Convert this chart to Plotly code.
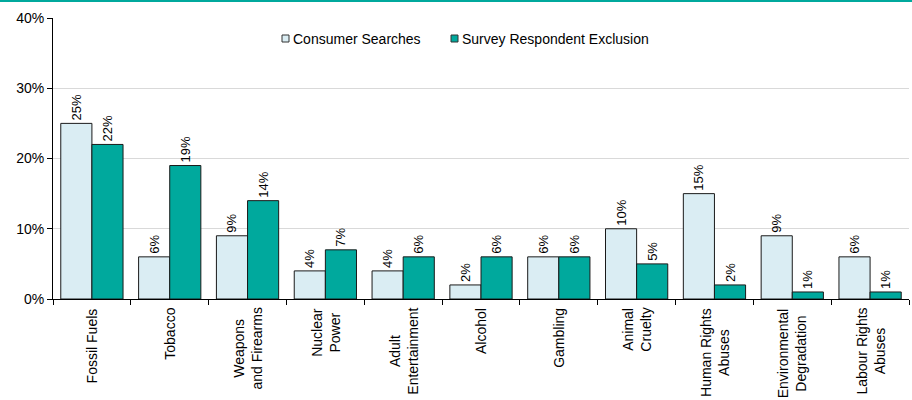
import plotly.graph_objects as go

categories = [
    "Fossil Fuels", "Tobacco", "Weapons<br>and Firearms", "Nuclear<br>Power",
    "Adult<br>Entertainment", "Alcohol", "Gambling", "Animal<br>Cruelty",
    "Human Rights<br>Abuses", "Environmental<br>Degradation", "Labour Rights<br>Abuses",
]
consumer_searches = [25, 6, 9, 4, 4, 2, 6, 10, 15, 9, 6]
survey_exclusion = [22, 19, 14, 7, 6, 6, 6, 5, 2, 1, 1]
y_ticks = [0, 10, 20, 30, 40]

series_names = ["Consumer Searches", "Survey Respondent Exclusion"]
series_colors = ["#DAEDF3", "#00A99D"]

W, H = 912, 400
ML, MR, MT, MB = 53, 3, 18, 101
FONT = "Liberation Sans, Arial, sans-serif"
pw = W - ML - MR
ph = H - MT - MB


def px_x(p):
    return (p - ML) / pw


def px_y(p):
    return 1 - (p - MT) / ph


fig = go.Figure()
for name, color, vals in zip(series_names, series_colors,
                             [consumer_searches, survey_exclusion]):
    fig.add_trace(go.Bar(
        name=name, x=categories, y=vals,
        marker=dict(color=color, line=dict(color="#1a1a1a", width=1)),
        text=[f"{v}%" for v in vals], textposition="outside",
        textangle=-90, textfont=dict(size=13, color="#000000"), cliponaxis=False,
        showlegend=False,
    ))

shapes = []
annotations = []

# category labels, rotated, with lines centred on each other
for cat in categories:
    annotations.append(dict(
        text=cat, xref="x", yref="paper", x=cat, y=px_y(306),
        xanchor="center", yanchor="top", textangle=-90, align="center",
        showarrow=False, font=dict(size=14, color="#000000"),
    ))

# compact legend: small outlined squares followed by the series names
legend_sq_left = [282, 451]
for name, color, x0 in zip(series_names, series_colors, legend_sq_left):
    shapes.append(dict(
        type="rect", xref="paper", yref="paper",
        x0=px_x(x0), x1=px_x(x0 + 7), y0=px_y(42), y1=px_y(35),
        fillcolor=color, line=dict(color="#333333", width=1),
    ))
    annotations.append(dict(
        text=name, xref="paper", yref="paper",
        x=px_x(x0 + 9), y=px_y(38.5), xanchor="left", yanchor="middle",
        showarrow=False, font=dict(size=14, color="#000000"),
    ))

# teal rule across the top of the figure
shapes.append(dict(
    type="line", xref="paper", yref="paper",
    x0=-ML / pw, x1=1 + MR / pw, y0=px_y(1), y1=px_y(1),
    line=dict(color="#00A99D", width=2),
))

fig.update_layout(
    width=W, height=H,
    margin=dict(l=ML, r=MR, t=MT, b=MB, pad=0),
    paper_bgcolor="white", plot_bgcolor="white",
    barmode="group", bargap=0.2, bargroupgap=0,
    font=dict(family=FONT, size=14, color="#000000"),
    showlegend=False,
    xaxis=dict(
        type="category", showline=True, linecolor="#000000", linewidth=1,
        ticks="outside", tickson="boundaries", ticklen=5, tickcolor="#000000",
        showticklabels=False, showgrid=False,
    ),
    yaxis=dict(
        range=[0, 40], tickvals=y_ticks, ticktext=[f"{v}%" for v in y_ticks],
        showline=True, linecolor="#000000", linewidth=1,
        ticks="outside", ticklen=5, tickcolor="#000000",
        showgrid=True, gridcolor="#D9D9D9", gridwidth=1,
        zeroline=False, tickfont=dict(size=14),
    ),
    shapes=shapes,
    annotations=annotations,
)

fig.write_html("out.html")
